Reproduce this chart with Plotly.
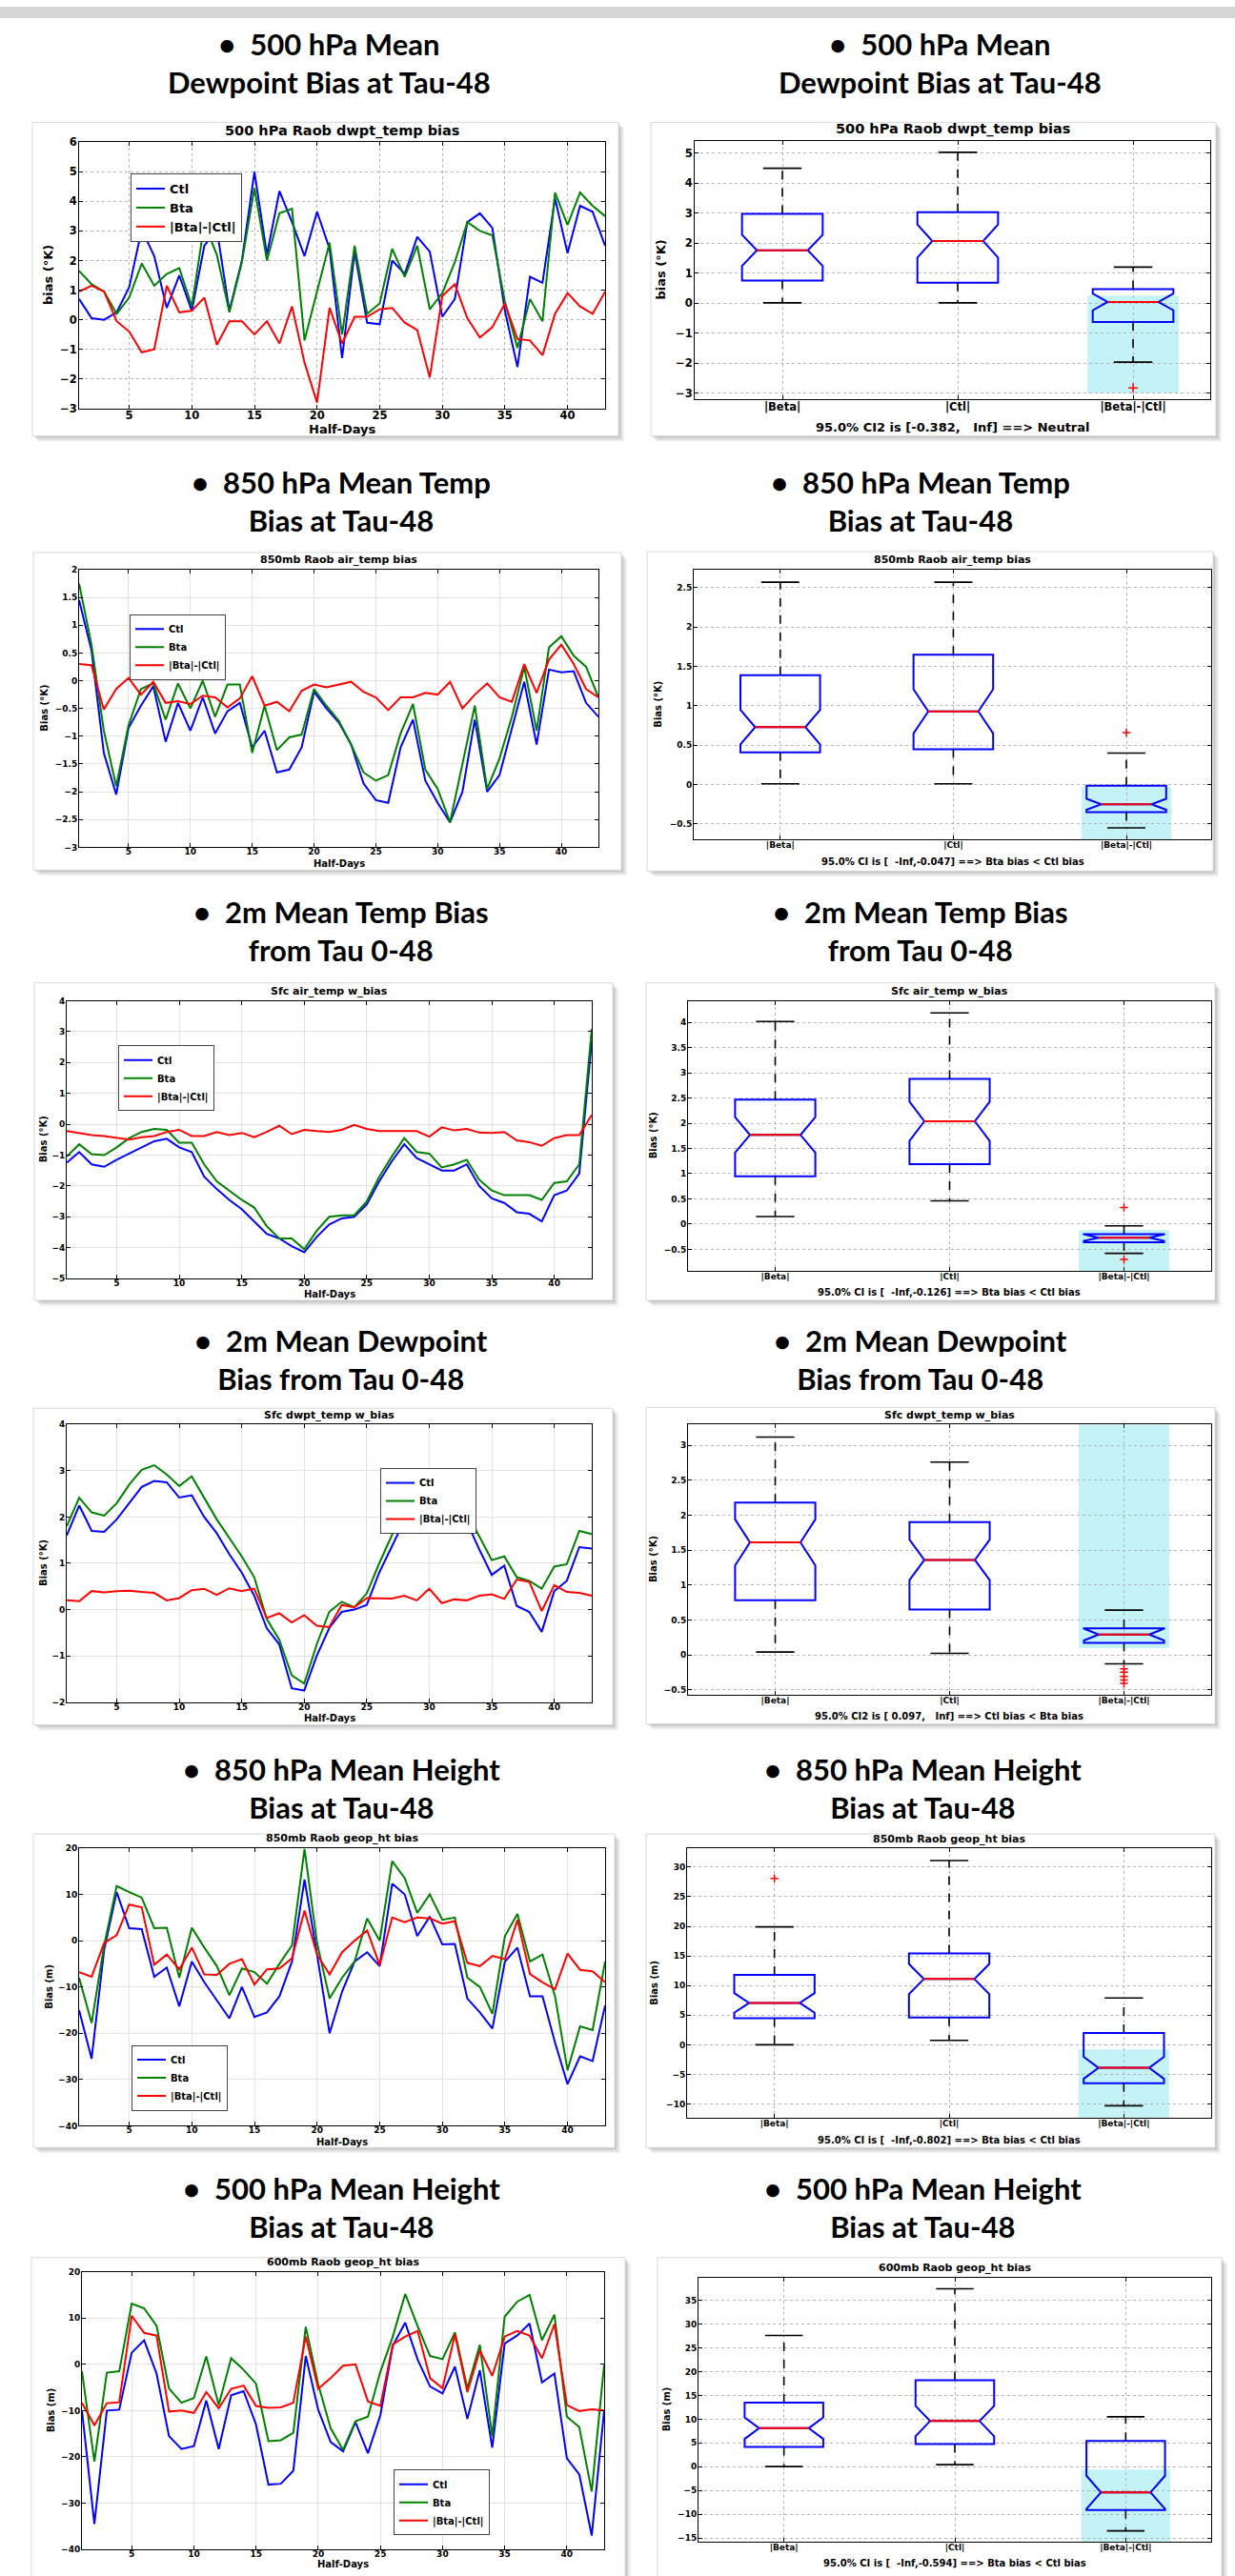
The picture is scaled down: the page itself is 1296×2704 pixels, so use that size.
import plotly.graph_objects as go

W, H = 1296, 2704

# ------------------------------------------------------------------ data
half_days = list(range(1, 44))
half_day_ticks = [5, 10, 15, 20, 25, 30, 35, 40]
series_names = ["Ctl", "Bta", "|Bta|-|Ctl|"]
box_names = ["|Beta|", "|Ctl|", "|Beta|-|Ctl|"]
box_positions = [1, 2, 3]

slide_headings = [
    "•\u00a0\u00a0500 hPa Mean<br>Dewpoint Bias at Tau-48",
    "•\u00a0\u00a0850 hPa Mean Temp<br>Bias at Tau-48",
    "•\u00a0\u00a02m Mean Temp Bias<br>from Tau 0-48",
    "•\u00a0\u00a02m Mean Dewpoint<br>Bias from Tau 0-48",
    "•\u00a0\u00a0850 hPa Mean Height<br>Bias at Tau-48",
    "•\u00a0\u00a0500 hPa Mean Height<br>Bias at Tau-48",
]
panel_titles = [
    "500 hPa Raob dwpt_temp bias",
    "850mb Raob air_temp bias",
    "Sfc air_temp w_bias",
    "Sfc dwpt_temp w_bias",
    "850mb Raob geop_ht bias",
    "600mb Raob geop_ht bias",
]
y_labels = ["bias (°K)", "Bias (°K)", "Bias (°K)", "Bias (°K)", "Bias (m)", "Bias (m)"]
ci_texts = [
    "95.0% CI2 is [-0.382,\u00a0\u00a0\u00a0Inf] ==&gt; Neutral",
    "95.0% CI is [\u00a0\u00a0-Inf,-0.047] ==&gt; Bta bias &lt; Ctl bias",
    "95.0% CI is [\u00a0\u00a0-Inf,-0.126] ==&gt; Bta bias &lt; Ctl bias",
    "95.0% CI2 is [\u00a00.097,\u00a0\u00a0\u00a0Inf] ==&gt; Ctl bias &lt; Bta bias",
    "95.0% CI is [\u00a0\u00a0-Inf,-0.802] ==&gt; Bta bias &lt; Ctl bias",
    "95.0% CI is [\u00a0\u00a0-Inf,-0.594] ==&gt; Bta bias &lt; Ctl bias",
]

# --- line series (43 half-days each)
dwpt500_ctl = [0.7, 0.05, 0.0, 0.25, 1.1, 3.05, 2.15, 0.4, 1.5, 0.3, 2.5, 3.05, 0.3, 2.0, 5.0, 2.2, 4.35, 3.3, 2.15, 3.65,
               2.4, -1.3, 2.3, -0.1, -0.15, 2.0, 1.55, 2.8, 2.3, 0.1, 0.7, 3.3, 3.6, 3.1, 0.3, -1.6, 1.45, 1.25, 4.1, 2.25,
               3.85, 3.65, 2.5]
dwpt500_bta = [1.65, 1.2, 0.95, 0.2, 0.75, 1.9, 1.15, 1.55, 1.75, 0.45, 3.25, 2.2, 0.25, 1.95, 4.45, 2.0, 3.6, 3.75, -0.7, 0.95,
               2.6, -0.5, 2.5, 0.2, 0.55, 2.4, 1.45, 2.5, 0.35, 0.9, 1.95, 3.3, 3.0, 2.85, 0.6, -0.95, 0.7, -0.05, 4.3, 3.2,
               4.3, 3.85, 3.5]
dwpt500_diff = [0.95, 1.15, 0.95, -0.05, -0.4, -1.1, -1.0, 1.15, 0.25, 0.3, 0.75, -0.85, -0.05, -0.05, -0.5, -0.05, -0.8, 0.45,
                -1.45, -2.8, 0.4, -0.8, 0.1, 0.1, 0.35, 0.4, -0.1, -0.35, -1.95, 0.8, 1.2, 0.05, -0.6, -0.25, 0.55, -0.65,
                -0.7, -1.2, 0.2, 0.9, 0.45, 0.2, 0.95]

temp850_ctl = [1.45, 0.55, -1.3, -2.05, -0.85, -0.45, -0.1, -1.1, -0.4, -0.9, -0.3, -0.95, -0.55, -0.4, -1.2, -0.9, -1.65, -1.6,
               -1.2, -0.2, -0.5, -0.75, -1.15, -1.85, -2.15, -2.2, -1.2, -0.7, -1.8, -2.2, -2.55, -2.0, -0.7, -2.0, -1.7,
               -0.85, -0.02, -1.15, 0.2, 0.15, 0.17, -0.4, -0.65]
temp850_bta = [1.75, 0.65, -0.9, -1.9, -0.8, -0.15, -0.05, -0.7, -0.05, -0.5, 0.0, -0.65, -0.07, -0.07, -1.3, -0.45, -1.25,
               -1.02, -0.97, -0.15, -0.45, -0.72, -1.15, -1.65, -1.8, -1.7, -0.95, -0.42, -1.6, -1.95, -2.55, -1.5, -0.45,
               -1.95, -1.4, -0.65, 0.25, -0.9, 0.6, 0.8, 0.45, 0.25, -0.3]
temp850_diff = [0.3, 0.28, -0.52, -0.15, 0.05, -0.25, -0.02, -0.4, -0.37, -0.42, -0.27, -0.3, -0.48, -0.32, 0.08, -0.45, -0.38,
                -0.55, -0.18, -0.07, -0.12, -0.07, -0.02, -0.2, -0.3, -0.53, -0.3, -0.3, -0.22, -0.25, -0.02, -0.5, -0.25,
                -0.05, -0.3, -0.38, 0.3, -0.22, 0.38, 0.65, 0.3, -0.15, -0.3]

t2m_ctl = [-1.25, -0.9, -1.3, -1.38, -1.15, -0.95, -0.75, -0.55, -0.47, -0.75, -0.9, -1.7, -2.1, -2.45, -2.75, -3.15, -3.55,
           -3.7, -3.95, -4.15, -3.65, -3.25, -3.05, -3.0, -2.6, -1.85, -1.2, -0.65, -1.1, -1.3, -1.5, -1.5, -1.3, -2.0, -2.4,
           -2.55, -2.85, -2.9, -3.15, -2.3, -2.15, -1.6, 2.7]
t2m_bta = [-1.05, -0.65, -0.97, -1.0, -0.75, -0.45, -0.25, -0.15, -0.18, -0.6, -0.6, -1.3, -1.85, -2.15, -2.45, -2.7, -3.3,
           -3.7, -3.7, -4.05, -3.45, -3.0, -2.95, -2.95, -2.5, -1.7, -1.05, -0.45, -0.9, -0.95, -1.4, -1.3, -1.15, -1.8,
           -2.15, -2.3, -2.3, -2.3, -2.45, -1.9, -1.85, -1.3, 3.1]
t2m_diff = [-0.22, -0.28, -0.35, -0.38, -0.45, -0.5, -0.42, -0.38, -0.25, -0.18, -0.38, -0.38, -0.25, -0.35, -0.28, -0.42,
            -0.25, -0.05, -0.32, -0.18, -0.22, -0.25, -0.18, -0.02, -0.15, -0.22, -0.22, -0.22, -0.22, -0.4, -0.1, -0.2,
            -0.15, -0.27, -0.28, -0.25, -0.52, -0.58, -0.7, -0.45, -0.35, -0.35, 0.3]

td2m_ctl = [1.6, 2.25, 1.7, 1.68, 1.95, 2.3, 2.65, 2.78, 2.75, 2.42, 2.47, 2.0, 1.65, 1.2, 0.8, 0.3, -0.4, -0.75, -1.7, -1.75,
            -1.0, -0.4, -0.05, 0.0, 0.1, 0.8, 1.35, 1.92, 1.85, 1.93, 1.75, 1.85, 1.9, 1.3, 0.75, 0.95, 0.08, -0.05, -0.48,
            0.4, 0.62, 1.35, 1.32]
td2m_bta = [1.8, 2.42, 2.1, 2.03, 2.3, 2.7, 3.02, 3.12, 2.92, 2.67, 2.88, 2.4, 1.95, 1.55, 1.15, 0.7, -0.2, -0.65, -1.42, -1.6,
            -0.75, -0.05, 0.17, 0.05, 0.35, 1.0, 1.6, 2.2, 2.02, 2.35, 1.88, 2.07, 2.1, 1.6, 1.07, 1.15, 0.7, 0.62, 0.45, 0.93,
            0.98, 1.7, 1.63]
td2m_diff = [0.2, 0.18, 0.4, 0.37, 0.4, 0.41, 0.38, 0.36, 0.2, 0.25, 0.42, 0.45, 0.32, 0.46, 0.4, 0.45, -0.18, -0.08, -0.28,
             -0.12, -0.35, -0.38, 0.1, 0.05, 0.25, 0.24, 0.24, 0.3, 0.2, 0.45, 0.14, 0.22, 0.2, 0.3, 0.33, 0.23, 0.65, 0.6,
             -0.03, 0.53, 0.38, 0.36, 0.3]

hgt850_ctl = [-15, -25.5, -2, 10.5, 2.7, 2.5, -7.8, -5.8, -14.2, -4.5, -9, -13, -16.8, -10, -16.5, -15.5, -12, -4.5, 13.2, -3,
              -20, -11, -4.5, -2.5, -5.5, 12.3, 10, 1.0, 5.2, -0.8, -0.7, -12.5, -15.5, -19, -4.5, -1.5, -12, -12, -22, -31,
              -25, -26, -14]
hgt850_bta = [-8, -17.8, -1, 11.8, 10.5, 9.3, 2.7, 2.8, -8, 2.8, -1.5, -5.5, -11.8, -6, -6.8, -9.3, -5, -1, 19.8, -0.5,
              -12.5, -8, -4.5, 4.8, 0, 17.2, 13.5, 6, 10, 4.5, 5, -8, -10, -15.8, 1, 5.8, -4.5, -3, -12, -28, -18.5, -19.3,
              -4.5]
hgt850_diff = [-6.8, -7.8, -0.5, 1.2, 7.8, 7.2, -5.2, -3, -6.2, -1.5, -7.3, -7.4, -5, -4, -9.5, -6.2, -6, -3.8, 6.5, -3,
               -7.3, -2.5, 0, 2.2, -5.3, 5, 4, 5, 4.8, 3.7, 4.2, -4.8, -5.5, -3.3, -4, 4.5, -7.2, -9, -10.5, -2.8, -6.3,
               -6.6, -9]

hgt600_ctl = [-10, -34.5, -10, -9.8, 2.5, 5.2, -2, -15.5, -18.3, -17.7, -7.8, -18.3, -6.7, -5.8, -13, -26, -25.8, -23, 1.8,
              -9.8, -16.8, -18.8, -12.5, -19.2, -11, 4, 9, 1, -4.8, -6.3, -0.5, -11.8, -1.3, -18, 4.5, 6.2, 8.8, -3.9, -2,
              -20.3, -23.8, -37, -10]
hgt600_bta = [-1.5, -21, -1.8, -1.5, 13.1, 12.1, 8.3, -5.2, -8.3, -7.3, 1.7, -8.8, 1.3, -1.2, -4.2, -16.6, -16.4, -14.8, 8.1,
              -4.3, -13.8, -18.5, -12.3, -11.3, -1.6, 6, 15.2, 8.2, 1.8, 1.1, 6.9, -5.2, 4.2, -15.5, 10.3, 13.5, 15, 5.2,
              10.7, -11.3, -13.6, -27.5, -0.1]
hgt600_diff = [-8.3, -13.2, -8.4, -8.2, 10.5, 6.8, 6.2, -10.2, -10, -10.5, -6, -9.5, -5.3, -4.6, -9, -9.4, -9.3, -8.3, 6,
               -5.3, -3, -0.3, 0, -8, -9, 4.3, 6, 7.2, -3, -5.2, 6.5, -6, 3, -2.5, 6, 7.2, 6.2, 1.3, 8.7, -8.8, -10.1, -9.7,
               -10]

# --- box statistics ([|Beta|, |Ctl|, |Beta|-|Ctl|])
box1_hi = [4.5, 5.03, 1.2];   box1_q3 = [2.98, 3.03, 0.47];  box1_med = [1.76, 2.07, 0.04]
box1_q1 = [0.75, 0.68, -0.63]; box1_lo = [0.01, 0.01, -1.97]; box1_notch = [0.52, 0.55, 0.28]
box1_out_x = [3]; box1_out_y = [-2.83]; box1_ci_band = [-3.0, 0.25]

box2_hi = [2.57, 2.57, 0.4];  box2_q3 = [1.39, 1.65, -0.015]; box2_med = [0.73, 0.93, -0.25]
box2_q1 = [0.41, 0.45, -0.35]; box2_lo = [0.01, 0.01, -0.55]; box2_notch = [0.22, 0.28, 0.07]
box2_out_x = [3]; box2_out_y = [0.66]; box2_ci_band = [-0.7, -0.03]

box3_hi = [4.02, 4.19, -0.035]; box3_q3 = [2.47, 2.88, -0.2]; box3_med = [1.77, 2.04, -0.27]
box3_q1 = [0.95, 1.19, -0.36]; box3_lo = [0.15, 0.46, -0.58]; box3_notch = [0.35, 0.39, 0.065]
box3_out_x = [3, 3]; box3_out_y = [0.33, -0.7]; box3_ci_band = [-0.93, -0.12]

box4_hi = [3.12, 2.76, 0.64]; box4_q3 = [2.18, 1.9, 0.38]; box4_med = [1.61, 1.36, 0.29]
box4_q1 = [0.78, 0.65, 0.17]; box4_lo = [0.04, 0.02, -0.13]; box4_notch = [0.33, 0.29, 0.085]
box4_out_x = [3, 3, 3, 3, 3]; box4_out_y = [-0.2, -0.25, -0.31, -0.36, -0.41]; box4_ci_band = [0.097, 3.3]

box5_hi = [19.9, 31.1, 7.9]; box5_q3 = [11.8, 15.4, 1.97]; box5_med = [7.07, 11.1, -3.9]
box5_q1 = [4.47, 4.6, -6.5]; box5_lo = [0.0, 0.74, -10.3]; box5_notch = [1.65, 2.55, 1.85]
box5_out_x = [1]; box5_out_y = [28.1]; box5_ci_band = [-12.4, -0.8]

box6_hi = [27.6, 37.4, 10.5]; box6_q3 = [13.5, 18.2, 5.4]; box6_med = [8.1, 9.6, -5.4]
box6_q1 = [4.15, 4.75, -9.1]; box6_lo = [0.03, 0.43, -13.5]; box6_notch = [2.25, 3.2, 3.5]
box6_out_x = []; box6_out_y = []; box6_ci_band = [-15.8, -0.6]

line_sets = [
    (dwpt500_ctl, dwpt500_bta, dwpt500_diff),
    (temp850_ctl, temp850_bta, temp850_diff),
    (t2m_ctl, t2m_bta, t2m_diff),
    (td2m_ctl, td2m_bta, td2m_diff),
    (hgt850_ctl, hgt850_bta, hgt850_diff),
    (hgt600_ctl, hgt600_bta, hgt600_diff),
]
box_sets = [
    (box1_hi, box1_q3, box1_med, box1_q1, box1_lo, box1_notch, box1_out_x, box1_out_y, box1_ci_band),
    (box2_hi, box2_q3, box2_med, box2_q1, box2_lo, box2_notch, box2_out_x, box2_out_y, box2_ci_band),
    (box3_hi, box3_q3, box3_med, box3_q1, box3_lo, box3_notch, box3_out_x, box3_out_y, box3_ci_band),
    (box4_hi, box4_q3, box4_med, box4_q1, box4_lo, box4_notch, box4_out_x, box4_out_y, box4_ci_band),
    (box5_hi, box5_q3, box5_med, box5_q1, box5_lo, box5_notch, box5_out_x, box5_out_y, box5_ci_band),
    (box6_hi, box6_q3, box6_med, box6_q1, box6_lo, box6_notch, box6_out_x, box6_out_y, box6_ci_band),
]

# ------------------------------------------------------------------ layout geometry (pixels)
rows = [
    dict(lax=(83, 635, 143, 424), lyr=[-3, 6], ldt=1,
         bax=(729, 1270, 142, 414), byr=[-3.2, 5.4], bdt=1, bxr=3.44,
         lfr=(34, 122, 649, 453), bfr=(683, 122, 1276, 453),
         head_y=59, head_lx=345, head_rx=986,
         lyt=50, byt=694, lt_y=131, bt_y=129, hd_y=446, ci_y=444,
         leg=(137, 176, "top"), fs=13, ts=14.5, tk=11.5, big=True),
    dict(lax=(83, 628, 594, 887), lyr=[-3, 2], ldt=0.5,
         bax=(728, 1271, 594, 879), byr=[-0.7, 2.73], bdt=0.5, bxr=3.49,
         lfr=(35, 576, 652, 911), bfr=(679, 575, 1273, 912),
         head_y=522, head_lx=358, head_rx=966,
         lyt=47, byt=691, lt_y=584, bt_y=584, hd_y=904, ci_y=902,
         leg=(136, 641, "top"), fs=10, ts=11, tk=9, big=False),
    dict(lax=(70, 621, 1049, 1342), lyr=[-5, 4], ldt=1,
         bax=(722, 1271, 1049, 1334), byr=[-0.93, 4.43], bdt=0.5, bxr=3.5,
         lfr=(36, 1030, 643, 1365), bfr=(678, 1030, 1275, 1365),
         head_y=975, head_lx=358, head_rx=966,
         lyt=45, byt=685, lt_y=1039, bt_y=1039, hd_y=1359, ci_y=1357,
         leg=(124, 1096, "top"), fs=10, ts=11, tk=9, big=False),
    dict(lax=(70, 621, 1496, 1789), lyr=[-2, 4], ldt=1,
         bax=(722, 1271, 1496, 1781), byr=[-0.57, 3.3], bdt=0.5, bxr=3.5,
         lfr=(35, 1479, 643, 1813), bfr=(678, 1478, 1275, 1812),
         head_y=1427, head_lx=358, head_rx=966,
         lyt=46, byt=685, lt_y=1486, bt_y=1486, hd_y=1806, ci_y=1804,
         leg=(399, 1542, "top"), fs=10, ts=11, tk=9, big=False),
    dict(lax=(83, 635, 1943, 2236), lyr=[-40, 20], ldt=10,
         bax=(721, 1271, 1943, 2228), byr=[-12.4, 33.2], bdt=5, bxr=3.5,
         lfr=(35, 1928, 645, 2259), bfr=(678, 1928, 1275, 2259),
         head_y=1880, head_lx=358, head_rx=968,
         lyt=52, byt=687, lt_y=1933, bt_y=1934, hd_y=2253, ci_y=2251,
         leg=(138, 2220, "bottom"), fs=10, ts=11, tk=9, big=False),
    dict(lax=(86, 634, 2390, 2683), lyr=[-40, 20], ldt=10,
         bax=(733, 1271, 2396, 2675), byr=[-15.8, 39.8], bdt=5, bxr=3.5,
         lfr=(33, 2375, 656, 2712), bfr=(690, 2375, 1282, 2712),
         head_y=2322, head_lx=358, head_rx=968,
         lyt=53, byt=699, lt_y=2380, bt_y=2386, hd_y=2698, ci_y=2697,
         leg=(413, 2668, "bottom"), fs=10, ts=11, tk=9, big=False),
]

FONT = "DejaVu Sans"
HEAD_FONT = "Lato"
LINE_COLORS = ["#0000ff", "#008000", "#ff0000"]
BOX_BLUE = "#0000ff"
CYAN = "#c3f3f6"
BOX_W = 0.46
NOTCH_W = 0.185
CAP_HALF = 0.11


def fx(px):
    return px / W


def fy(py):
    return 1 - py / H


fig = go.Figure()
shapes, annotations = [], []
layout = dict(width=W, height=H, autosize=False, margin=dict(l=0, r=0, t=0, b=0),
              paper_bgcolor="white", plot_bgcolor="white", showlegend=True,
              hovermode=False)

# grey strip at the very top
shapes.append(dict(type="rect", xref="paper", yref="paper", x0=0, x1=1, y0=fy(12), y1=1,
                   fillcolor="#d6d6d6", line=dict(width=0), layer="below"))


def frame(rect):
    x0, y0, x1, y1 = rect
    for off, op in ((6, 0.06), (4, 0.08), (2, 0.10)):
        shapes.append(dict(type="rect", xref="paper", yref="paper",
                           x0=fx(x0 + off), x1=fx(x1 + off), y0=fy(y1 + off), y1=fy(y0 + off),
                           fillcolor=f"rgba(0,0,0,{op})", line=dict(width=0), layer="below"))
    shapes.append(dict(type="rect", xref="paper", yref="paper",
                       x0=fx(x0), x1=fx(x1), y0=fy(y1), y1=fy(y0),
                       fillcolor="white", line=dict(color="#d8d8d8", width=1), layer="below"))


def text(t, x, y, size, family=FONT, weight="bold", angle=0, xanchor="center", yanchor="middle"):
    annotations.append(dict(text=t, x=fx(x), y=fy(y), xref="paper", yref="paper", showarrow=False,
                            xanchor=xanchor, yanchor=yanchor, textangle=angle,
                            font=dict(family=family, size=size, color="black", weight=weight)))


def axis_common(tk, grid_dash, grid_color, standoff=0):
    return dict(showline=True, linecolor="black", linewidth=1, mirror="ticks", ticks="inside",
                ticklen=4, tickcolor="black", zeroline=False, showgrid=True, gridcolor=grid_color,
                griddash=grid_dash, gridwidth=1, ticklabelstandoff=standoff,
                tickfont=dict(family=FONT, size=tk, color="black", weight="bold"))


for r, g in enumerate(rows):
    nL, nB = 2 * r + 1, 2 * r + 2
    xl = "x" if nL == 1 else f"x{nL}"
    yl = "y" if nL == 1 else f"y{nL}"
    xb, yb = f"x{nB}", f"y{nB}"
    legend_id = "legend" if r == 0 else f"legend{r + 1}"

    frame(g["lfr"])
    frame(g["bfr"])

    # ---- line panel
    lx0, lx1, ly0, ly1 = g["lax"]
    line_grid = ("dot", "#b4b4b4") if g["big"] else ("solid", "#e2e2e2")
    layout["xaxis" if nL == 1 else f"xaxis{nL}"] = dict(
        domain=[fx(lx0), fx(lx1)], range=[1, 43], tickvals=half_day_ticks, anchor=yl,
        **axis_common(g["tk"], *line_grid, standoff=-4))
    layout["yaxis" if nL == 1 else f"yaxis{nL}"] = dict(
        domain=[fy(ly1), fy(ly0)], range=g["lyr"], dtick=g["ldt"], tick0=0, anchor=xl,
        **axis_common(g["tk"], *line_grid, standoff=-1))
    for name, vals, col in zip(series_names, line_sets[r], LINE_COLORS):
        fig.add_trace(go.Scatter(x=half_days, y=vals, mode="lines", name=name,
                                 line=dict(color=col, width=2), xaxis=xl, yaxis=yl,
                                 legend=legend_id))
    lgx, lgy, lanchor = g["leg"]
    layout[legend_id] = dict(x=fx(lgx), y=fy(lgy), xanchor="left", yanchor=lanchor,
                             bgcolor="white", bordercolor="#444444", borderwidth=1,
                             tracegroupgap=0, itemwidth=30,
                             font=dict(family=FONT, size=g["fs"], color="black", weight="bold"))
    text(panel_titles[r], (lx0 + lx1) / 2, g["lt_y"], g["ts"])
    text("Half-Days", (lx0 + lx1) / 2, g["hd_y"], g["fs"])
    text(y_labels[r], g["lyt"], (ly0 + ly1) / 2, g["fs"], angle=-90)

    # ---- box panel
    bx0, bx1, by0, by1 = g["bax"]
    layout[f"xaxis{nB}"] = dict(domain=[fx(bx0), fx(bx1)], range=[0.5, g["bxr"]], tickvals=box_positions,
                                ticktext=box_names, anchor=yb,
                                **axis_common(g["tk"], "dot", "#b4b4b4", standoff=-3))
    layout[f"yaxis{nB}"] = dict(domain=[fy(by1), fy(by0)], range=g["byr"], dtick=g["bdt"], tick0=0,
                                anchor=xb, **axis_common(g["tk"], "dot", "#b4b4b4", standoff=-1))
    hi, q3, med, q1, lo, notch, out_x, out_y, band = box_sets[r]

    shapes.append(dict(type="rect", xref=xb, yref=yb, x0=box_positions[2] - 0.26, x1=box_positions[2] + 0.26,
                       y0=band[0], y1=band[1], fillcolor=CYAN, line=dict(width=0), layer="below"))

    fig.add_trace(go.Box(x=box_positions, q1=q1, median=med, q3=q3, lowerfence=q1, upperfence=q3,
                         notchspan=notch, notched=True, notchwidth=NOTCH_W, width=BOX_W, whiskerwidth=0,
                         boxpoints=False, line=dict(color=BOX_BLUE, width=2), fillcolor="rgba(0,0,0,0)",
                         showlegend=False, xaxis=xb, yaxis=yb))
    wx, wy, cx, cy, mx, my = [], [], [], [], [], []
    mh = BOX_W / 2 * (1 - 2 * NOTCH_W)
    for p, a, b, c, d, m in zip(box_positions, hi, q3, q1, lo, med):
        wx += [p, p, None, p, p, None]
        wy += [b, a, None, c, d, None]
        cx += [p - CAP_HALF, p + CAP_HALF, None, p - CAP_HALF, p + CAP_HALF, None]
        cy += [a, a, None, d, d, None]
        mx += [p - mh, p + mh, None]
        my += [m, m, None]
    fig.add_trace(go.Scatter(x=wx, y=wy, mode="lines", line=dict(color="black", width=1.6, dash="dash"),
                             showlegend=False, xaxis=xb, yaxis=yb))
    fig.add_trace(go.Scatter(x=cx, y=cy, mode="lines", line=dict(color="black", width=1.6),
                             showlegend=False, xaxis=xb, yaxis=yb))
    fig.add_trace(go.Scatter(x=mx, y=my, mode="lines", line=dict(color="#ff0000", width=2),
                             showlegend=False, xaxis=xb, yaxis=yb))
    if out_x:
        fig.add_trace(go.Scatter(x=out_x, y=out_y, mode="markers",
                                 marker=dict(symbol="cross-thin", size=6 if not g["big"] else 7,
                                             line=dict(color="#ff0000", width=1.5)),
                                 showlegend=False, xaxis=xb, yaxis=yb))
    text(panel_titles[r], (bx0 + bx1) / 2, g["bt_y"], g["ts"])
    text(ci_texts[r], (bx0 + bx1) / 2, g["ci_y"], g["fs"])
    text(y_labels[r], g["byt"], (by0 + by1) / 2, g["fs"], angle=-90)

    # ---- slide headings
    text(slide_headings[r], g["head_lx"], g["head_y"], 31, family=HEAD_FONT)
    text(slide_headings[r], g["head_rx"], g["head_y"], 31, family=HEAD_FONT)

layout["shapes"] = shapes
layout["annotations"] = annotations
fig.update_layout(**layout)
fig.write_html("out.html", config={"displayModeBar": False},
               post_script="document.body.style.margin='0px';document.body.style.overflow='hidden';")
